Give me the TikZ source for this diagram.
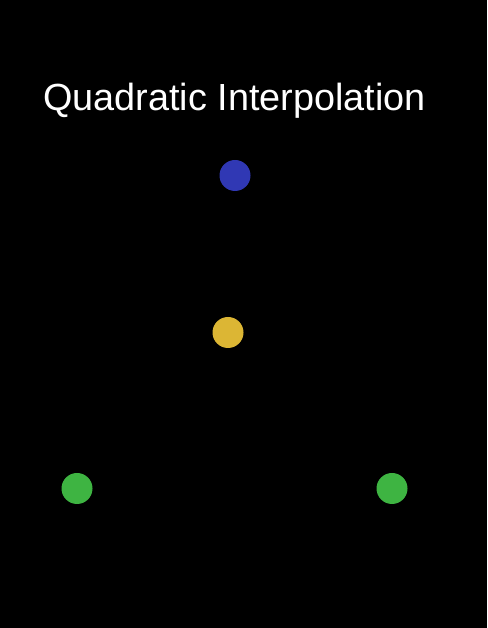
\documentclass[tikz,border=0pt]{standalone}
\usepackage{fontspec}
\setmainfont{Liberation Sans}
\begin{document}
\begin{tikzpicture}[x=1pt,y=1pt,
  dot/.style={circle,inner sep=0pt,minimum size=31pt,draw=none},
  title/.style={text=white,font=\fontsize{37.8}{41}\selectfont,inner sep=0pt,anchor=base west}]
\fill[black] (0,0) rectangle (487,628);
\useasboundingbox (0,0) rectangle (487,628);
\node[title] (t) at (43.2,517) {Quadratic Interpolation};
\node[dot,fill={rgb,255:red,48;green,56;blue,180}] (b) at (235,452.5) {};
\node[dot,fill={rgb,255:red,220;green,182;blue,52}] (y) at (228,295.5) {};
\node[dot,fill={rgb,255:red,62;green,180;blue,66}] (g1) at (77,139.5) {};
\node[dot,fill={rgb,255:red,62;green,180;blue,66}] (g2) at (392,139.5) {};
\end{tikzpicture}
\end{document}
